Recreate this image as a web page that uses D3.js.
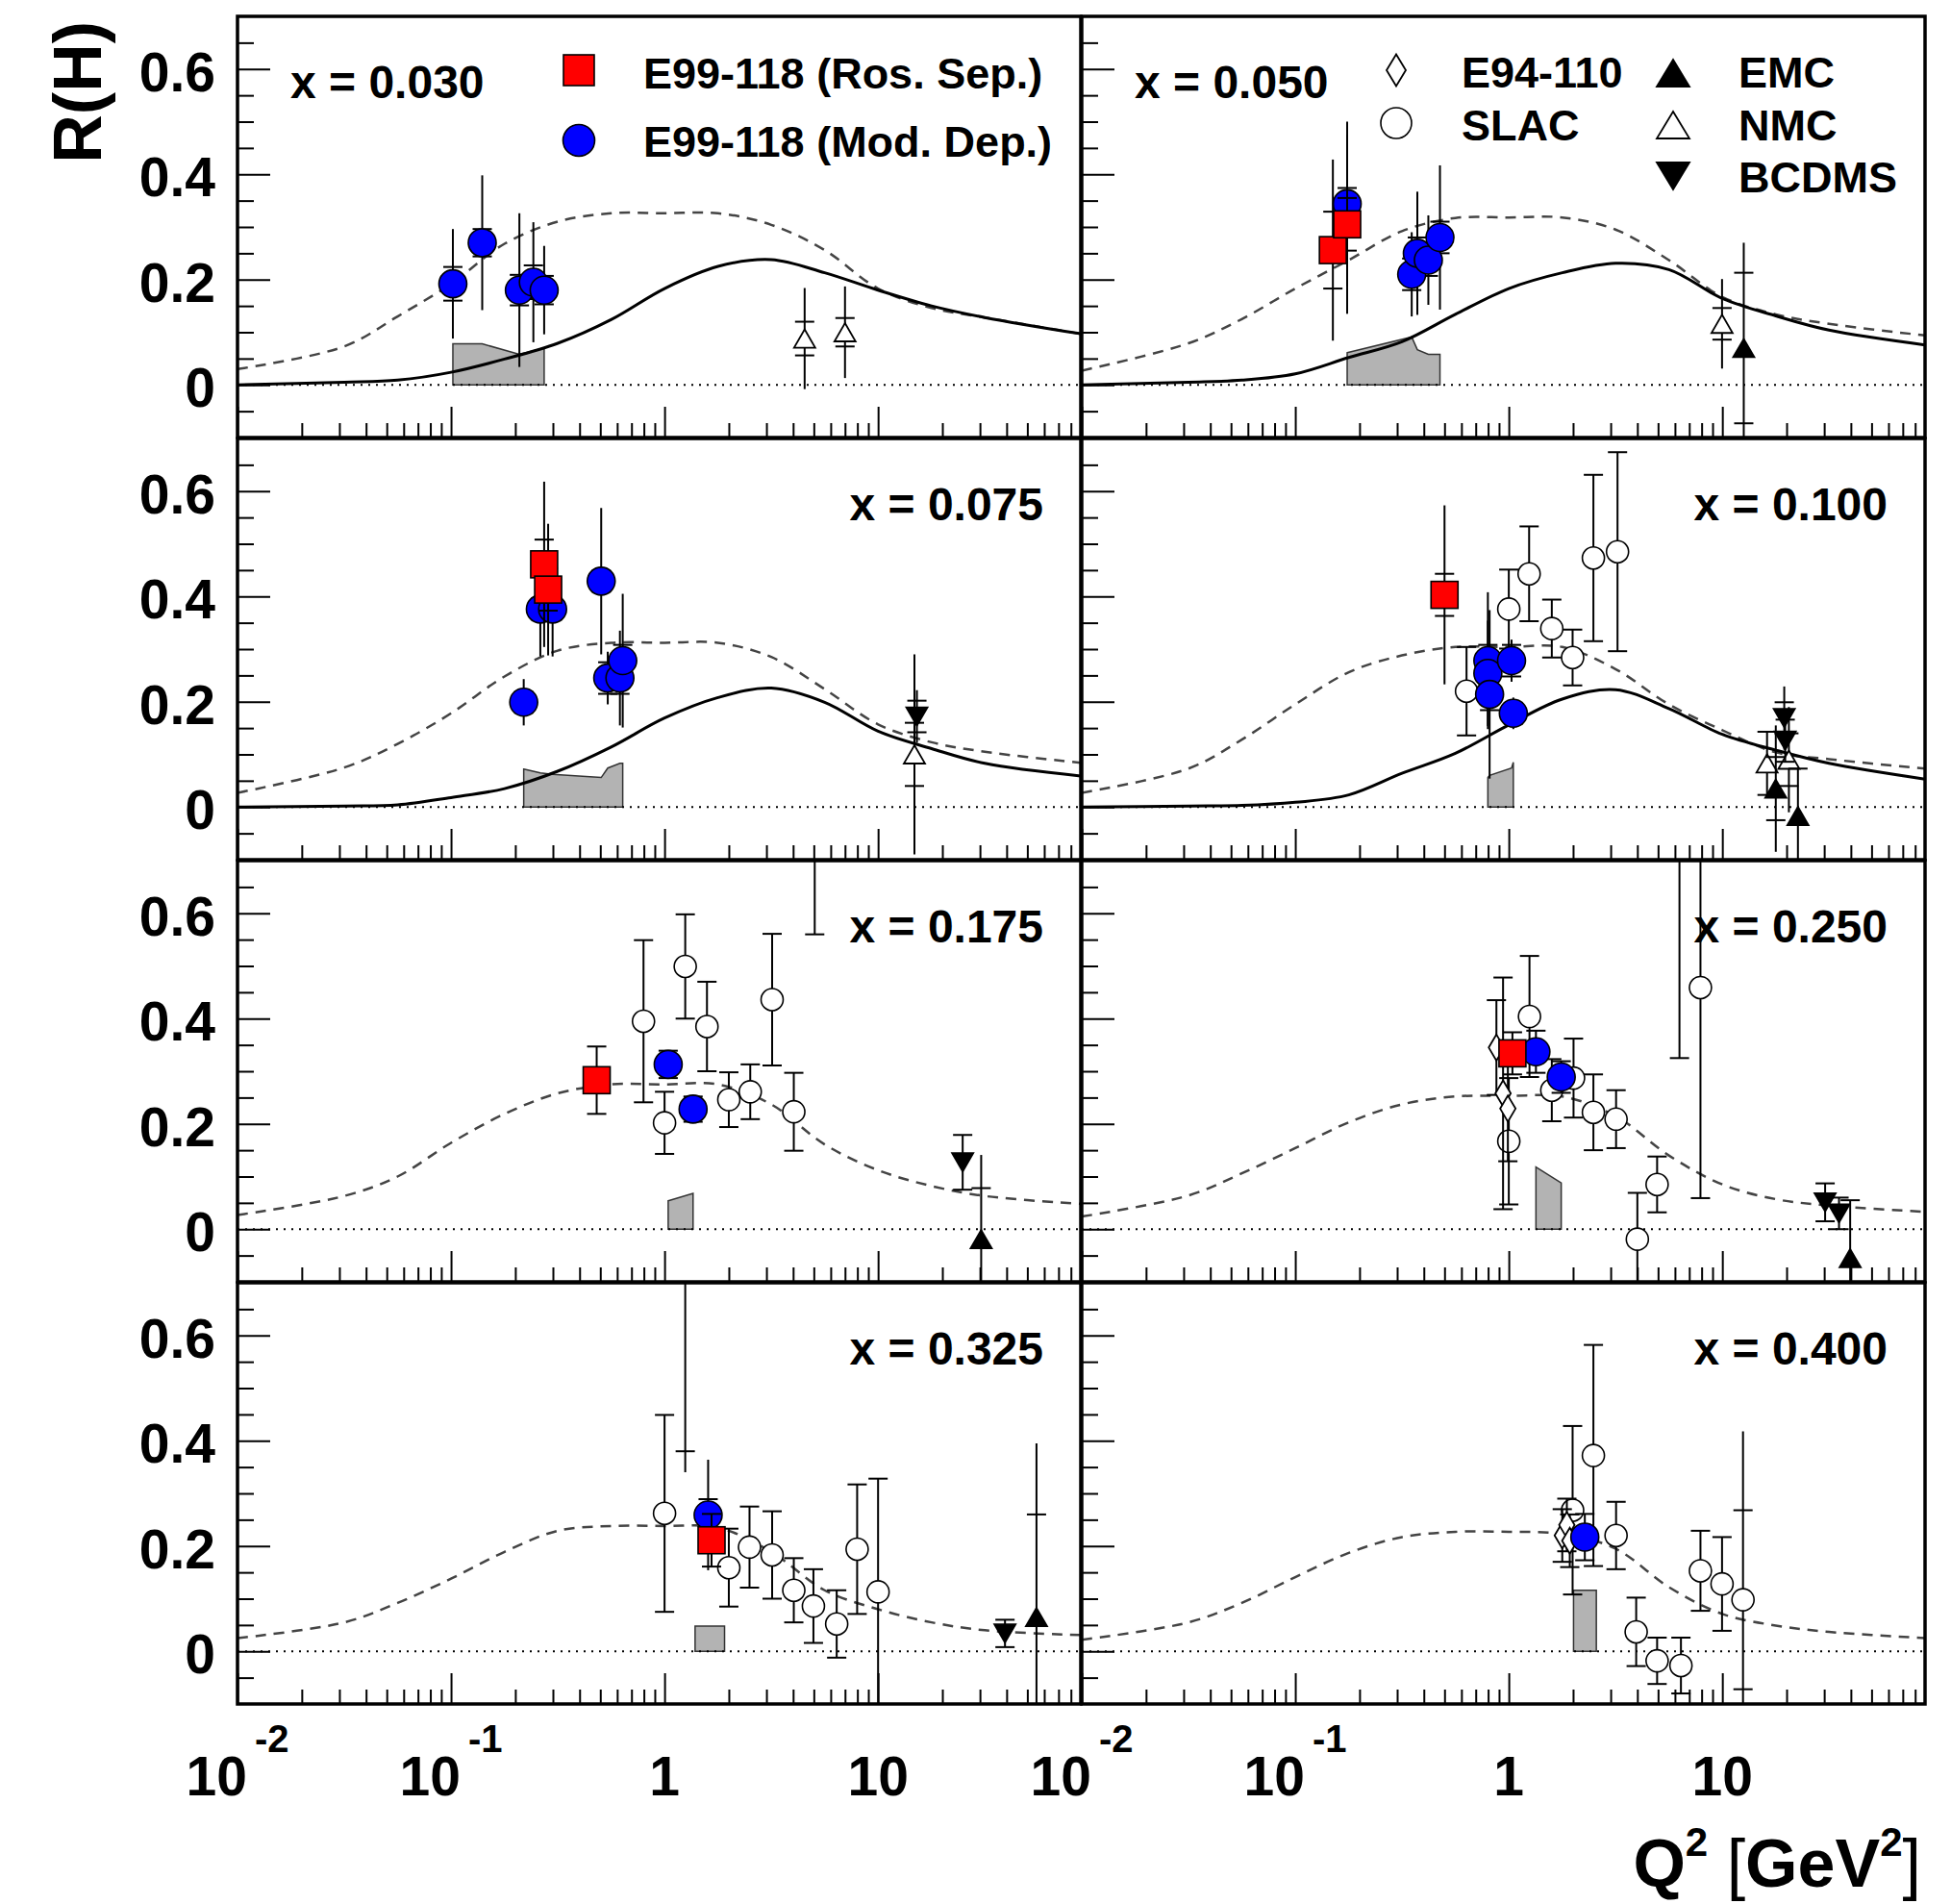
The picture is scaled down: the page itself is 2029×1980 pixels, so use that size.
<!DOCTYPE html>
<html>
<head>
<meta charset="utf-8">
<script src="https://cdn.jsdelivr.net/npm/d3@7"></script>
<style>
  body { margin: 0; background: #fff; }
  svg { display: block; }
  text { font-family: "Liberation Sans", Arial, Helvetica, sans-serif; font-weight: bold; fill: #000; }
</style>
</head>
<body>
<svg id="chart" width="2029" height="1980"></svg>
<script>
// ---- data ----
const panelLabels = ["x = 0.030", "x = 0.050", "x = 0.075", "x = 0.100",
                     "x = 0.175", "x = 0.250", "x = 0.325", "x = 0.400"];

// model curves, sampled at these Q2 values
const curveQ2 = [0.01, 0.0316, 0.0562, 0.1, 0.178, 0.316, 0.562, 1, 1.78, 3.16, 5.62, 10, 17.8, 31.6, 89];
const solidR = [
  [0, 0.005, 0.009, 0.024, 0.049, 0.079, 0.124, 0.183, 0.225, 0.238, 0.213, 0.180, 0.150, 0.128, 0.097],
  [0, 0.005, 0.009, 0.021, 0.052, 0.082, 0.134, 0.183, 0.213, 0.231, 0.219, 0.164, 0.131, 0.104, 0.076],
  [0, 0.002, 0.004, 0.018, 0.035, 0.068, 0.114, 0.169, 0.208, 0.226, 0.199, 0.144, 0.111, 0.083, 0.059],
  [0, 0.002, 0.003, 0.009, 0.023, 0.064, 0.102, 0.156, 0.205, 0.223, 0.187, 0.138, 0.108, 0.083, 0.053],
  null, null, null, null
];
const dashedR = [
  [0.030, 0.073, 0.130, 0.192, 0.268, 0.310, 0.326, 0.326, 0.326, 0.304, 0.256, 0.183, 0.146, 0.128, 0.097],
  [0.027, 0.079, 0.125, 0.183, 0.237, 0.292, 0.317, 0.318, 0.318, 0.295, 0.237, 0.167, 0.134, 0.116, 0.094],
  [0.027, 0.075, 0.120, 0.178, 0.248, 0.297, 0.312, 0.312, 0.312, 0.285, 0.224, 0.157, 0.123, 0.105, 0.084],
  [0.027, 0.073, 0.128, 0.195, 0.256, 0.288, 0.304, 0.304, 0.304, 0.262, 0.195, 0.146, 0.104, 0.091, 0.073],
  [0.027, 0.063, 0.100, 0.164, 0.219, 0.258, 0.275, 0.275, 0.275, 0.237, 0.161, 0.112, 0.082, 0.063, 0.048],
  [0.024, 0.064, 0.106, 0.154, 0.203, 0.237, 0.252, 0.253, 0.252, 0.215, 0.140, 0.085, 0.057, 0.045, 0.033],
  [0.025, 0.055, 0.092, 0.138, 0.189, 0.229, 0.238, 0.238, 0.235, 0.189, 0.116, 0.080, 0.055, 0.040, 0.031],
  [0.022, 0.055, 0.092, 0.141, 0.187, 0.217, 0.227, 0.227, 0.223, 0.195, 0.122, 0.071, 0.049, 0.037, 0.025]
];

// systematic band: [Q2, R]
const sysBand = [
  [[0.102, 0.078], [0.140, 0.078], [0.209, 0.058], [0.243, 0.065], [0.273, 0.070]],
  [[0.175, 0.061], [0.351, 0.091], [0.373, 0.067], [0.420, 0.058], [0.476, 0.058]],
  [[0.219, 0.072], [0.262, 0.065], [0.299, 0.062], [0.505, 0.056], [0.542, 0.074], [0.618, 0.083], [0.637, 0.083]],
  [[0.798, 0.056], [0.813, 0.060], [1.03, 0.074], [1.05, 0.085]],
  [[1.04, 0.054], [1.36, 0.068]],
  [[1.34, 0.118], [1.76, 0.088]],
  [[1.39, 0.048], [1.91, 0.048]],
  [[2.01, 0.116], [2.57, 0.116]]
];

// points: [Q2, R, inner error (capped), outer error]
const modDep = [
  [[0.102, 0.192, 0.032, 0.104], [0.140, 0.270, 0.026, 0.128], [0.209, 0.180, 0.029, 0.146], [0.243, 0.195, 0.032, 0.114], [0.273, 0.180, 0.027, 0.084]],
  [[0.175, 0.344, 0.03, 0.156], [0.351, 0.210, 0.03, 0.08], [0.373, 0.250, 0.03, 0.117], [0.420, 0.237, 0.03, 0.085], [0.476, 0.280, 0.03, 0.137]],
  [[0.219, 0.199, 0.02, 0.044], [0.262, 0.376, 0.02, 0.09], [0.299, 0.376, 0.02, 0.09], [0.505, 0.429, 0.02, 0.139], [0.542, 0.245, 0.03, 0.05], [0.618, 0.245, 0.03, 0.09], [0.637, 0.278, 0.03, 0.127]],
  [[0.798, 0.278, 0.03, 0.13], [0.798, 0.254, 0.03, 0.10], [0.813, 0.214, 0.03, 0.16], [1.03, 0.278, 0.03, 0.04], [1.05, 0.178, 0.02, 0.03]],
  [[1.04, 0.313, 0.026, 0.026], [1.36, 0.228, 0.024, 0.024]],
  [[1.34, 0.337, 0.04, 0.04], [1.76, 0.289, 0.03, 0.03]],
  [[1.60, 0.259, 0.03, 0.105]],
  [[2.27, 0.217, 0.044, 0.044]]
];
const rosSep = [
  [],
  [[0.150, 0.256, 0.073, 0.172], [0.175, 0.305, 0.05, 0.17]],
  [[0.273, 0.461, 0.047, 0.157], [0.285, 0.413, 0.04, 0.125]],
  [[0.50, 0.403, 0.04, 0.17]],
  [[0.481, 0.283, 0.064, 0.064]],
  [[1.04, 0.334, 0.04, 0.04]],
  [[1.66, 0.211, 0.05, 0.05]],
  []
];
const e94 = [
  [], [], [], [], [],
  [[0.875, 0.345, 0.09, 0.09], [0.94, 0.258, 0.22, 0.22], [0.99, 0.229, 0.10, 0.10]],
  [],
  [[1.78, 0.220, 0.05, 0.05], [1.87, 0.240, 0.05, 0.05], [1.93, 0.210, 0.05, 0.05]]
];
const slac = [
  [], [], [],
  [[0.634, 0.220, 0.084, 0.084], [1.0, 0.376, 0.075, 0.075], [1.245, 0.443, 0.09, 0.09], [1.59, 0.339, 0.055, 0.055],
   [1.99, 0.284, 0.053, 0.053], [2.49, 0.473, 0.158, 0.158], [3.23, 0.485, 0.189, 0.189]],
  [[0.797, 0.395, 0.154, 0.154], [1.0, 0.202, 0.059, 0.059], [1.25, 0.499, 0.099, 0.099], [1.58, 0.385, 0.085, 0.085],
   [2.0, 0.246, 0.052, 0.052], [2.52, 0.261, 0.052, 0.052], [3.19, 0.436, 0.125, 0.125], [4.03, 0.223, 0.074, 0.074], [5.05, 0.85, 0.29, 0.29]],
  [[1.0, 0.167, 0.12, 0.12], [1.25, 0.404, 0.115, 0.115], [1.59, 0.264, 0.059, 0.059], [2.01, 0.287, 0.075, 0.075],
   [2.49, 0.222, 0.072, 0.072], [3.18, 0.209, 0.055, 0.055], [4.0, -0.019, 0.088, 0.088], [4.95, 0.085, 0.053, 0.053],
   [6.3, 0.95, 0.625, 0.625], [7.9, 0.459, 0.40, 0.40]],
  [[1.0, 0.262, 0.187, 0.187], [1.25, 0.85, 0.47, 0.51], [2.0, 0.159, 0.074, 0.074], [2.5, 0.198, 0.077, 0.077],
   [3.19, 0.183, 0.083, 0.083], [4.03, 0.116, 0.061, 0.061], [4.98, 0.086, 0.07, 0.07], [6.4, 0.052, 0.064, 0.064],
   [7.98, 0.194, 0.123, 0.123], [10.0, 0.113, 0.215, 0.215]],
  [[1.99, 0.268, 0.16, 0.16], [2.49, 0.372, 0.21, 0.21], [3.18, 0.220, 0.064, 0.064], [3.95, 0.037, 0.065, 0.065],
   [4.95, -0.018, 0.044, 0.044], [6.4, -0.027, 0.053, 0.053], [7.9, 0.153, 0.076, 0.076], [9.97, 0.128, 0.089, 0.089],
   [12.5, 0.098, 0.17, 0.32]]
];
const emc = [
  [], [[12.6, 0.070, 0.143, 0.2]], [],
  [[17.8, 0.035, 0.06, 0.12], [22.6, -0.017, 0.09, 0.09]],
  [[30.4, -0.019, 0.097, 0.16]],
  [[39.7, -0.055, 0.11, 0.11]],
  [[55.2, 0.065, 0.195, 0.33]],
  []
];
const nmc = [
  [[4.53, 0.088, 0.032, 0.096], [7.0, 0.100, 0.027, 0.087]],
  [[9.97, 0.116, 0.03, 0.085]],
  [[14.8, 0.100, 0.06, 0.19]],
  [[16.2, 0.083, 0.06, 0.06], [20.5, 0.090, 0.05, 0.10]],
  [], [], [], []
];
const bcdms = [
  [], [],
  [[15.2, 0.172, 0.03, 0.05]],
  [[19.5, 0.169, 0.03, 0.06], [19.7, 0.126, 0.04, 0.04]],
  [[24.9, 0.127, 0.052, 0.052]],
  [[30.3, 0.051, 0.036, 0.036], [35.2, 0.030, 0.03, 0.03]],
  [[39.3, 0.034, 0.026, 0.026]],
  []
];

const xMajor = [0.01, 0.1, 1, 10];
const xTickLabels = [["10", "-2"], ["10", "-1"], ["1", ""], ["10", ""]];
const yMajor = [0, 0.2, 0.4, 0.6];
const yTickLabels = ["0", "0.2", "0.4", "0.6"];

// ---- layout ----
const svg = d3.select('#chart');
const defs = svg.append('defs');
const W = 877, H = 438;
const colX = [247, 1125];
const rowY = [17, 456, 895, 1334];

const x = d3.scaleLog().domain([0.01, 89]).range([0, W]);
const y = d3.scaleLinear().domain([-0.1, 0.7]).range([H, 0]);

const xMinor = [];
[0.01, 0.1, 1, 10].forEach(b => { for (let m = 2; m <= 9; m++) if (b * m < 89) xMinor.push(b * m); });
const yMinor = d3.range(-0.05, 0.7, 0.05).filter(v => Math.abs(Math.round(v * 100) % 20) > 1e-6 && Math.abs(v) > 1e-9);

function triPath(w, h, down) {
  const s = down ? -1 : 1;
  return `M0,${-s * h / 2}L${w / 2},${s * h / 2}L${-w / 2},${s * h / 2}Z`;
}
function diamondPath(w, h) {
  return `M0,${-h / 2}L${w / 2},0L0,${h / 2}L${-w / 2},0Z`;
}

// marker painters
const markers = {
  circle(sel, r, fill) {
    sel.append('circle').attr('r', r).attr('fill', fill).attr('stroke', '#000').attr('stroke-width', 1.6);
  },
  square(sel, s, fill) {
    sel.append('rect').attr('x', -s / 2).attr('y', -s / 2).attr('width', s).attr('height', s)
      .attr('fill', fill).attr('stroke', '#000').attr('stroke-width', 1.6);
  },
  path(sel, d, fill) {
    sel.append('path').attr('d', d).attr('fill', fill).attr('stroke', '#000').attr('stroke-width', 1.8);
  }
};

const series = [
  { data: slac,   draw: s => markers.circle(s, 11.5, '#fff') },
  { data: e94,    draw: s => markers.path(s, diamondPath(16, 27), '#fff') },
  { data: nmc,    draw: s => markers.path(s, triPath(22, 19, false), '#fff') },
  { data: emc,    draw: s => markers.path(s, triPath(22, 19, false), '#000') },
  { data: bcdms,  draw: s => markers.path(s, triPath(22, 19, true), '#000') },
  { data: modDep, draw: s => markers.circle(s, 14.5, '#0000ff') },
  { data: rosSep, draw: s => markers.square(s, 28, '#ff0000') }
];

const line = d3.line().x((d, i) => x(curveQ2[i])).y(d => y(d)).curve(d3.curveCatmullRom.alpha(0.5));
const area = d3.area().x(d => x(d[0])).y0(y(0)).y1(d => y(d[1]));

panelLabels.forEach((lab, p) => {
  const col = p % 2, row = Math.floor(p / 2);
  const g = svg.append('g').attr('transform', `translate(${colX[col]},${rowY[row]})`);

  defs.append('clipPath').attr('id', 'clip' + p)
    .append('rect').attr('width', W).attr('height', H);
  const plot = g.append('g').attr('clip-path', `url(#clip${p})`);

  plot.append('path').datum(sysBand[p]).attr('d', area)
    .attr('fill', '#b3b3b3').attr('stroke', '#333').attr('stroke-width', 1.5);

  plot.append('path').datum(dashedR[p]).attr('d', line)
    .attr('fill', 'none').attr('stroke', '#444').attr('stroke-width', 2.5).attr('stroke-dasharray', '11,8');
  if (solidR[p]) {
    plot.append('path').datum(solidR[p]).attr('d', line)
      .attr('fill', 'none').attr('stroke', '#000').attr('stroke-width', 3);
  }

  plot.append('line').attr('x1', 0).attr('x2', W).attr('y1', y(0)).attr('y2', y(0))
    .attr('stroke', '#000').attr('stroke-width', 2).attr('stroke-dasharray', '2,6');

  series.forEach(sr => {
    const pts = sr.data[p];
    const eb = plot.append('g').attr('stroke', '#000').attr('stroke-width', 2);
    pts.forEach(d => {
      const cx = x(d[0]);
      eb.append('line').attr('x1', cx).attr('x2', cx).attr('y1', y(d[1] - d[3])).attr('y2', y(d[1] + d[3]));
      [d[1] - d[2], d[1] + d[2]].forEach(v => {
        eb.append('line').attr('x1', cx - 10).attr('x2', cx + 10).attr('y1', y(v)).attr('y2', y(v));
      });
    });
    pts.forEach(d => {
      const m = plot.append('g').attr('transform', `translate(${x(d[0])},${y(d[1])})`);
      sr.draw(m);
    });
  });

  // ticks
  const tickStyle = s => { s.select('.domain').remove(); s.selectAll('line').attr('stroke', '#000').attr('stroke-width', 2); s.selectAll('text').remove(); };
  g.append('g').attr('transform', `translate(0,${H})`)
    .call(d3.axisBottom(x).tickValues(xMajor).tickSize(-32).tickFormat('')).call(tickStyle);
  g.append('g').attr('transform', `translate(0,${H})`)
    .call(d3.axisBottom(x).tickValues(xMinor).tickSize(-15).tickFormat('')).call(tickStyle);
  g.append('g').call(d3.axisLeft(y).tickValues(yMajor).tickSize(-34).tickFormat('')).call(tickStyle);
  g.append('g').call(d3.axisLeft(y).tickValues(yMinor).tickSize(-17).tickFormat('')).call(tickStyle);

  g.append('rect').attr('width', W).attr('height', H)
    .attr('fill', 'none').attr('stroke', '#000').attr('stroke-width', 3.5);

  // panel label
  if (row === 0) {
    g.append('text').attr('x', 55).attr('y', 85).attr('font-size', 48).text(lab);
  } else {
    g.append('text').attr('x', W - 39).attr('y', 85).attr('text-anchor', 'end').attr('font-size', 48).text(lab);
  }

  // y tick labels on the left column
  if (col === 0) {
    yMajor.forEach((v, i) => {
      svg.append('text').attr('x', 224).attr('y', rowY[row] + y(v) + 23)
        .attr('text-anchor', 'end').attr('font-size', 57).text(yTickLabels[i]);
    });
  }
  // x tick labels on the bottom row
  if (row === 3) {
    xMajor.forEach((v, i) => {
      const t = svg.append('text').attr('x', colX[col] + x(v)).attr('y', 1867)
        .attr('text-anchor', 'middle').attr('font-size', 57).text(xTickLabels[i][0]);
      if (xTickLabels[i][1]) {
        t.append('tspan').attr('dx', 8).attr('dy', -45).attr('font-size', 40).text(xTickLabels[i][1]);
      }
    });
  }
});

// ---- legends ----
const leg = svg.append('g');
markers.square(leg.append('g').attr('transform', 'translate(602,73)'), 32, '#ff0000');
leg.append('text').attr('x', 669).attr('y', 92).attr('font-size', 45).text('E99-118 (Ros. Sep.)');
markers.circle(leg.append('g').attr('transform', 'translate(602,146)'), 16.5, '#0000ff');
leg.append('text').attr('x', 669).attr('y', 163).attr('font-size', 45).text('E99-118 (Mod. Dep.)');

markers.path(leg.append('g').attr('transform', 'translate(1452,73)'), diamondPath(20, 33), '#fff');
leg.append('text').attr('x', 1520).attr('y', 91).attr('font-size', 45).text('E94-110');
markers.circle(leg.append('g').attr('transform', 'translate(1452,128)'), 16, '#fff');
leg.append('text').attr('x', 1520).attr('y', 146).attr('font-size', 45).text('SLAC');
markers.path(leg.append('g').attr('transform', 'translate(1740,76)'), triPath(34, 28, false), '#000');
leg.append('text').attr('x', 1808).attr('y', 91).attr('font-size', 45).text('EMC');
markers.path(leg.append('g').attr('transform', 'translate(1740,130)'), triPath(34, 28, false), '#fff');
leg.append('text').attr('x', 1808).attr('y', 146).attr('font-size', 45).text('NMC');
markers.path(leg.append('g').attr('transform', 'translate(1740,183)'), triPath(34, 28, true), '#000');
leg.append('text').attr('x', 1808).attr('y', 200).attr('font-size', 45).text('BCDMS');

// ---- axis titles ----
svg.append('text').attr('transform', 'translate(105,22) rotate(-90)')
  .attr('text-anchor', 'end').attr('font-size', 70).text('R(H)');

const xt = svg.append('text').attr('x', 1998).attr('y', 1962).attr('text-anchor', 'end').attr('font-size', 70);
xt.append('tspan').text('Q');
xt.append('tspan').attr('dy', -32).attr('font-size', 42).text('2');
xt.append('tspan').attr('dy', 32).attr('font-weight', 'normal').attr('font-size', 70).text(' [');
xt.append('tspan').text('GeV');
xt.append('tspan').attr('dy', -32).attr('font-size', 42).text('2');
xt.append('tspan').attr('dy', 32).attr('font-weight', 'normal').attr('font-size', 70).text(']');
</script>
</body>
</html>
